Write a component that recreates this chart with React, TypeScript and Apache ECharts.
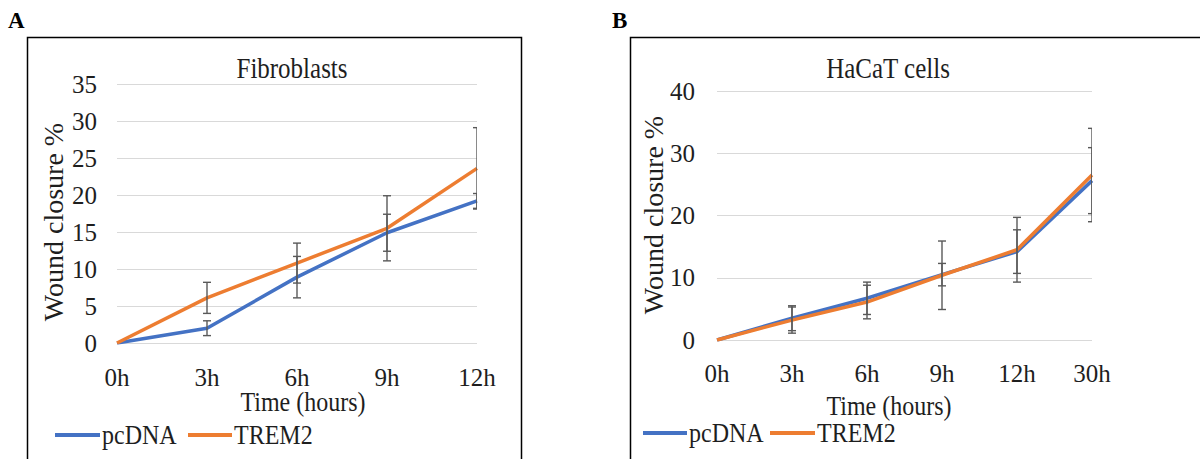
import React, { useEffect, useRef } from "react";
import * as echarts from "echarts";

const categoriesA = ["0h", "3h", "6h", "9h", "12h"];
const pcdnaA = [0, 2.0, 8.9, 14.9, 19.2];
const trem2A = [0, 6.1, 10.8, 15.5, 23.6];
const pcdnaErrA = [0, 1.0, 2.8, 2.5, 1.0];
const trem2ErrA = [0, 2.1, 2.7, 4.4, 5.5];

const categoriesB = ["0h", "3h", "6h", "9h", "12h", "30h"];
const pcdnaB = [0, 3.5, 6.7, 10.5, 14.2, 25.6];
const trem2B = [0, 3.2, 6.1, 10.4, 14.5, 26.5];
const pcdnaErrB = [0, 2.0, 2.6, 1.8, 3.5, 5.3];
const trem2ErrB = [0, 2.1, 2.7, 5.5, 5.2, 7.5];

const BLUE = "#4472C4";
const ORANGE = "#ED7D31";
const FONT = "'Liberation Serif', 'Times New Roman', serif";
const TXT = "#1e1e1e";
const SY = 1.17;

function errData(vals: number[], errs: number[]) {
  const out: number[][] = [];
  vals.forEach((v, i) => {
    if (errs[i] > 0) out.push([i, v - errs[i], v + errs[i]]);
  });
  return out;
}

function renderErr(params: any, api: any) {
  const x = api.value(0);
  const lo = api.value(1);
  const hi = api.value(2);
  const t = api.coord([x, hi]);
  const b = api.coord([x, lo]);
  const w = 4;
  const st = { stroke: "#595959", lineWidth: 1.4 };
  return {
    type: "group",
    children: [
      { type: "line", shape: { x1: t[0], y1: t[1], x2: b[0], y2: b[1] }, style: st },
      { type: "line", shape: { x1: t[0] - w, y1: t[1], x2: t[0] + w, y2: t[1] }, style: st },
      { type: "line", shape: { x1: b[0] - w, y1: b[1], x2: b[0] + w, y2: b[1] }, style: st },
    ],
  };
}

function txt(text: string, x: number, y: number, size: number, align = "center", extra: any = {}) {
  return {
    type: "text", x, y, scaleY: SY,
    style: { text, font: `${size}px ${FONT}`, fill: TXT, textAlign: align, textVerticalAlign: "middle" },
    ...extra,
  };
}

function legendItems(y: number, x1: number, x2: number, t1: number, x3: number, x4: number, t2: number) {
  return [
    { type: "line", shape: { x1, y1: y, x2, y2: y }, style: { stroke: BLUE, lineWidth: 4 } },
    txt("pcDNA", t1, y, 24, "left"),
    { type: "line", shape: { x1: x3, y1: y, x2: x4, y2: y }, style: { stroke: ORANGE, lineWidth: 4 } },
    txt("TREM2", t2, y, 24, "left"),
  ];
}

export default function App() {
  const ref = useRef<HTMLDivElement>(null);
  useEffect(() => {
    if (!ref.current) return;
    const chart = echarts.init(ref.current, undefined, { renderer: "svg" });
    const axisLabel = { color: TXT, fontSize: 25, fontFamily: FONT };
    const option: any = {
      animation: false,
      backgroundColor: "#ffffff",
      grid: [
        { left: 117, top: 84, width: 360, height: 259 },
        { left: 717, top: 91, width: 375, height: 249 },
      ],
      xAxis: [
        {
          type: "category", gridIndex: 0, data: categoriesA, boundaryGap: false,
          axisLine: { show: false }, axisTick: { show: false },
          axisLabel: { ...axisLabel, margin: 22 },
        },
        {
          type: "category", gridIndex: 1, data: categoriesB, boundaryGap: false,
          axisLine: { show: false }, axisTick: { show: false },
          axisLabel: { ...axisLabel, margin: 21 },
        },
      ],
      yAxis: [
        {
          type: "value", gridIndex: 0, min: 0, max: 35, interval: 5,
          axisLine: { show: false }, axisTick: { show: false },
          axisLabel: { ...axisLabel, margin: 20 },
          splitLine: { lineStyle: { color: "#d9d9d9", width: 1.2 } },
        },
        {
          type: "value", gridIndex: 1, min: 0, max: 40, interval: 10,
          axisLine: { show: false }, axisTick: { show: false },
          axisLabel: { ...axisLabel, margin: 22 },
          splitLine: { lineStyle: { color: "#d9d9d9", width: 1.2 } },
        },
      ],
      series: [
        { name: "pcDNA", type: "line", xAxisIndex: 0, yAxisIndex: 0, data: pcdnaA, showSymbol: false, lineStyle: { color: BLUE, width: 3.5 }, itemStyle: { color: BLUE }, z: 2 },
        { name: "TREM2", type: "line", xAxisIndex: 0, yAxisIndex: 0, data: trem2A, showSymbol: false, lineStyle: { color: ORANGE, width: 3.5 }, itemStyle: { color: ORANGE }, z: 3 },
        { name: "pcDNA", type: "line", xAxisIndex: 1, yAxisIndex: 1, data: pcdnaB, showSymbol: false, lineStyle: { color: BLUE, width: 3.5 }, itemStyle: { color: BLUE }, z: 2 },
        { name: "TREM2", type: "line", xAxisIndex: 1, yAxisIndex: 1, data: trem2B, showSymbol: false, lineStyle: { color: ORANGE, width: 3.5 }, itemStyle: { color: ORANGE }, z: 3 },
        { type: "custom", xAxisIndex: 0, yAxisIndex: 0, data: errData(pcdnaA, pcdnaErrA), renderItem: renderErr, clip: true, z: 5, encode: { x: 0, y: [1, 2] } },
        { type: "custom", xAxisIndex: 0, yAxisIndex: 0, data: errData(trem2A, trem2ErrA), renderItem: renderErr, clip: true, z: 5, encode: { x: 0, y: [1, 2] } },
        { type: "custom", xAxisIndex: 1, yAxisIndex: 1, data: errData(pcdnaB, pcdnaErrB), renderItem: renderErr, clip: true, z: 5, encode: { x: 0, y: [1, 2] } },
        { type: "custom", xAxisIndex: 1, yAxisIndex: 1, data: errData(trem2B, trem2ErrB), renderItem: renderErr, clip: true, z: 5, encode: { x: 0, y: [1, 2] } },
      ],
      graphic: [
        { type: "rect", shape: { x: 27.5, y: 37.5, width: 494, height: 450 }, style: { fill: "none", stroke: "#000", lineWidth: 1.5 } },
        { type: "rect", shape: { x: 630.5, y: 37.5, width: 600, height: 450 }, style: { fill: "none", stroke: "#000", lineWidth: 1.5 } },
        { type: "text", x: 8, y: 20, style: { text: "A", font: `bold 23px ${FONT}`, fill: "#000", textVerticalAlign: "middle" } },
        { type: "text", x: 612, y: 20, style: { text: "B", font: `bold 23px ${FONT}`, fill: "#000", textVerticalAlign: "middle" } },
        txt("Fibroblasts", 292, 68, 25),
        txt("HaCaT cells", 888, 68, 25),
        { type: "text", x: 53, y: 222, rotation: Math.PI / 2, style: { text: "Wound closure %", font: `28px ${FONT}`, fill: TXT, textAlign: "center", textVerticalAlign: "middle" } },
        { type: "text", x: 653, y: 215, rotation: Math.PI / 2, style: { text: "Wound closure %", font: `28px ${FONT}`, fill: TXT, textAlign: "center", textVerticalAlign: "middle" } },
        txt("Time (hours)", 303, 402, 24),
        txt("Time (hours)", 889, 406, 24),
        ...legendItems(435, 55, 100, 102, 188, 232, 234),
        ...legendItems(433, 643, 687, 689, 770, 815, 817),
      ],
    };
    chart.setOption(option);
    return () => chart.dispose();
  }, []);
  return (
    <div
      ref={ref}
      style={{ position: "absolute", left: 0, top: 0, width: 1200, height: 459 }}
    />
  );
}
